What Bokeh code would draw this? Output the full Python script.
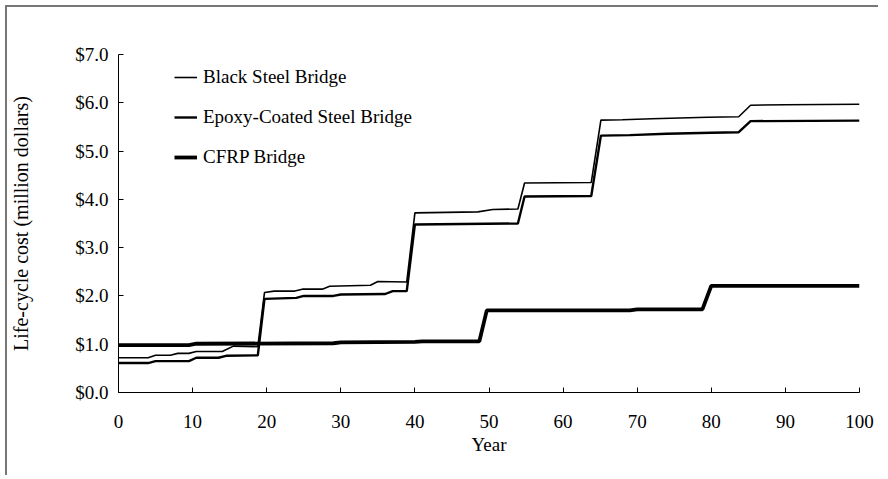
from bokeh.plotting import figure
from bokeh.models import Range1d, FixedTicker, NumeralTickFormatter, Legend, LegendItem
from bokeh.embed import file_html
from bokeh.resources import INLINE

# ---- data ----
black_years = [0, 4, 5, 7, 8, 9.5, 10.5, 14, 15.5, 18.8, 19.7, 21, 23.8, 24.8, 27.5, 28.5, 34, 35, 38.9, 40.0,
               48.5, 50.5, 53.9, 54.8, 63.8, 65.1, 68, 72, 79.5, 83.7, 85.3, 90, 100]
black_vals = [0.72, 0.72, 0.77, 0.77, 0.81, 0.81, 0.85, 0.85, 0.96, 0.95, 2.07, 2.10, 2.10, 2.14, 2.14, 2.20, 2.22, 2.30, 2.29, 3.72,
              3.74, 3.79, 3.80, 4.34, 4.35, 5.64, 5.65, 5.67, 5.70, 5.71, 5.95, 5.96, 5.97]

epoxy_years = [0, 4, 5, 9.5, 10.5, 13.5, 14.5, 18.8, 19.7, 24, 25, 29, 30, 36, 37, 38.9, 40.0,
               53.9, 54.8, 63.8, 65.1, 69, 74, 80, 83.7, 85.3, 100]
epoxy_vals = [0.61, 0.61, 0.65, 0.65, 0.72, 0.72, 0.76, 0.77, 1.94, 1.96, 2.00, 2.00, 2.03, 2.04, 2.10, 2.10, 3.48,
              3.50, 4.06, 4.07, 5.32, 5.33, 5.36, 5.38, 5.39, 5.62, 5.63]

cfrp_years = [0, 9.5, 10.5, 29, 30, 40, 41, 48.7, 49.7, 69, 70, 78.8, 80.0, 100]
cfrp_vals = [0.98, 0.98, 1.01, 1.02, 1.04, 1.05, 1.06, 1.06, 1.70, 1.70, 1.72, 1.72, 2.21, 2.21]

series_names = ["Black Steel Bridge", "Epoxy-Coated Steel Bridge", "CFRP Bridge"]
y_ticks = [0, 1, 2, 3, 4, 5, 6, 7]
x_ticks = [0, 10, 20, 30, 40, 50, 60, 70, 80, 90, 100]

FONT = "Liberation Serif"

p = figure(width=873, height=470, output_backend="svg", toolbar_location=None,
           x_range=Range1d(0, 100), y_range=Range1d(0, 7),
           min_border_left=104, min_border_right=21, min_border_top=47, min_border_bottom=85)
p.styles = {"border-left": "2px solid #777777", "border-top": "2px solid #777777",
            "margin-left": "5px", "margin-top": "5px"}

p.outline_line_color = None
p.xgrid.grid_line_color = None
p.ygrid.grid_line_color = None
p.background_fill_color = "white"
p.border_fill_color = "white"

r1 = p.line(black_years, black_vals, line_color="black", line_width=1.6)
r2 = p.line(epoxy_years, epoxy_vals, line_color="black", line_width=2.4)
r3 = p.line(cfrp_years, cfrp_vals, line_color="black", line_width=3.8)

for ax in (p.xaxis[0], p.yaxis[0]):
    ax.axis_line_color = "black"
    ax.axis_line_width = 1
    ax.major_tick_line_color = "black"
    ax.major_tick_in = 5
    ax.major_tick_out = 0
    ax.minor_tick_line_color = None
    ax.major_label_text_font = FONT
    ax.major_label_text_font_size = "19px"
    ax.major_label_text_color = "black"
    ax.axis_label_text_font = FONT
    ax.axis_label_text_font_style = "normal"
    ax.axis_label_text_color = "black"

p.xaxis.ticker = FixedTicker(ticks=x_ticks)
p.yaxis.ticker = FixedTicker(ticks=y_ticks)
p.yaxis.formatter = NumeralTickFormatter(format="$0.0")
p.xaxis.major_label_standoff = 22
p.yaxis.major_label_standoff = 10
p.xaxis.axis_label = "Year"
p.yaxis.axis_label = "Life-cycle cost (million dollars)"
p.xaxis.axis_label_text_font_size = "19px"
p.yaxis.axis_label_text_font_size = "20px"
p.xaxis.axis_label_standoff = 3
p.yaxis.axis_label_standoff = 40

legend = Legend(items=[LegendItem(label=series_names[0], renderers=[r1]),
                       LegendItem(label=series_names[1], renderers=[r2]),
                       LegendItem(label=series_names[2], renderers=[r3])],
                location=(56, 224))
legend.label_text_font = FONT
legend.label_text_font_size = "19px"
legend.label_text_color = "black"
legend.glyph_width = 23
legend.glyph_height = 20
legend.label_height = 20
legend.spacing = 18
legend.label_standoff = 6
legend.padding = 0
legend.margin = 0
legend.border_line_color = None
legend.background_fill_alpha = 0
p.add_layout(legend, "center")

open("out.html", "w").write(file_html(p, INLINE))
